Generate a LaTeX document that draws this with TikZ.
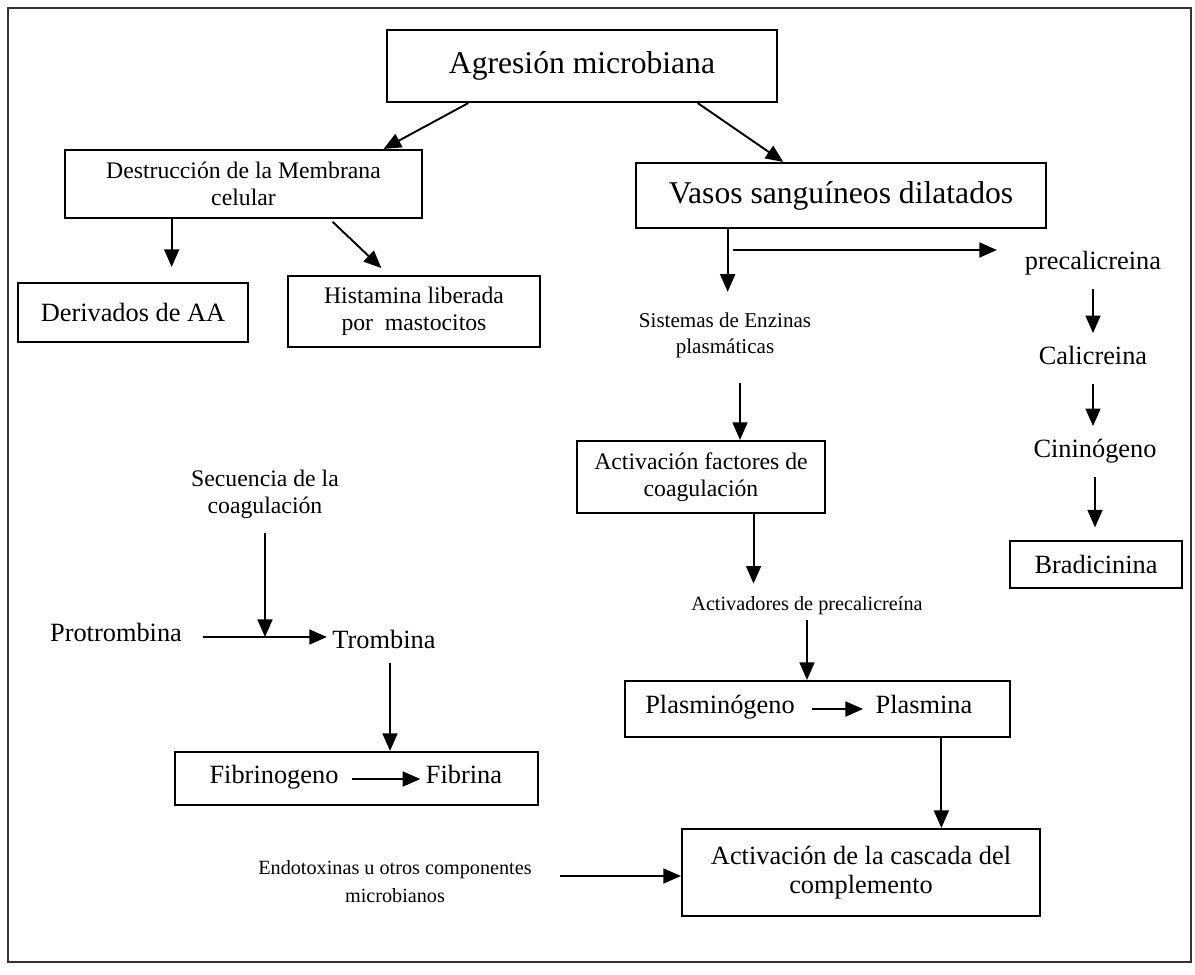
\documentclass[tikz,border=0pt]{standalone}
\usepackage{fontspec}
\setmainfont{Liberation Serif}
\usetikzlibrary{arrows.meta,positioning,calc}

\begin{document}
\begin{tikzpicture}[x=1cm,y=1cm,>={Triangle[length=10pt,width=8.5pt]},
 box/.style={draw,line width=1.2pt,align=center,inner sep=2pt},
 txt/.style={align=center,inner sep=3pt},
 word/.style={txt,text height=.75em,text depth=.25em},
 fbig/.style={font=\fontsize{18}{21}\selectfont},
 fmid/.style={font=\fontsize{15}{16.5}\selectfont},
 fsmall/.style={font=\fontsize{13.5}{15.2}\selectfont},
 ftiny/.style={font=\fontsize{12}{14.8}\selectfont},
 fmini/.style={font=\fontsize{11.5}{16}\selectfont},
 flow/.style={->,line width=1.1pt},
 chain/.style={flow,shorten <=.2cm,shorten >=.25cm}]
\useasboundingbox (0,0) rectangle (23.9,-19.48);
\draw[line width=.8pt,black!80] (0.16,-0.16) rectangle (23.82,-19.24);
% upper part
\node[box,fbig,minimum width=7.8cm,minimum height=1.44cm] (agresion) at (11.64,-1.32) {Agresión microbiana};
\node[box,fsmall,minimum width=7.14cm,minimum height=1.36cm] (destruccion) at (4.87,-3.68) {Destrucción de la Membrana\\celular};
\node[box,fbig,minimum width=8.2cm,minimum height=1.3cm] (vasos) at (16.82,-3.91) {Vasos sanguíneos dilatados};
\node[box,fmid,minimum width=4.6cm,minimum height=1.18cm] (derivados) at (2.66,-6.25) {Derivados de AA};
\node[box,fsmall,minimum width=5.04cm,minimum height=1.42cm] (histamina) at (8.28,-6.23) {Histamina liberada\\por\ \ mastocitos};
\node[txt,ftiny] (sistemas) at (14.5,-6.7) {Sistemas de Enzinas\\plasmáticas};
% kinin branch
\node[word,fmid] (precal) at (21.86,-5.3) {precalicreina};
\node[word,fmid] (calic) at (21.86,-7.2) {Calicreina};
\node[word,fmid] (cinin) at (21.9,-9.06) {Cininógeno};
\node[box,fmid,minimum width=3.44cm,minimum height=.94cm] (bradic) at (21.92,-11.29) {Bradicinina};
% plasma enzymes
\node[box,fsmall,minimum width=4.96cm,minimum height=1.44cm] (factores) at (14.02,-9.54) {Activación factores de\\coagulación};
\node[word,fmini] (activadores) at (16.14,-12.12) {Activadores de precalicreína};
\node[box,minimum width=7.7cm,minimum height=1.12cm] (plasmbox) at (16.35,-14.18) {};
\node[word,fmid] (plasminogeno) at (14.4,-14.18) {Plasminógeno};
\node[word,fmid] (plasmina) at (18.48,-14.18) {Plasmina};
\node[box,fmid,minimum width=7.16cm,minimum height=1.74cm] (complemento) at (17.22,-17.45) {Activación de la cascada del\\complemento};
\node[txt,fmini] (endotoxinas) at (7.9,-17.64) {Endotoxinas u otros componentes\\microbianos};
% coagulation
\node[txt,fsmall] (secuencia) at (5.3,-9.88) {Secuencia de la\\coagulación};
\node[word,fmid] (protrombina) at (2.32,-12.74) {Protrombina};
\node[word,fmid] (trombina) at (7.68,-12.88) {Trombina};
\node[box,minimum width=7.26cm,minimum height=1.06cm] (fibbox) at (7.13,-15.57) {};
\node[word,fmid] (fibrinogeno) at (5.48,-15.58) {Fibrinogeno};
\node[word,fmid] (fibrina) at (9.28,-15.58) {Fibrina};
% connectors
\draw[flow] ($(agresion.south west)!.21!(agresion.south east)$) -- ($(destruccion.north west)!.89!(destruccion.north east)$);
\draw[flow] ($(agresion.south west)!.795!(agresion.south east)$) -- ($(vasos.north west)!.36!(vasos.north east)$);
\draw[flow,shorten >=.3cm] ($(destruccion.south west)!.3!(destruccion.south east)$) coordinate (d1) -- (d1 |- derivados.north);
\draw[flow,shorten <=.08cm,shorten >=.2cm] ($(destruccion.south west)!.74!(destruccion.south east)$) -- ($(histamina.north west)!.4!(histamina.north east)$);
\draw[flow,shorten >=.3cm] ($(vasos.south west)!.225!(vasos.south east)$) coordinate (v1) -- (v1 |- sistemas.north);
\coordinate (fork) at (14.66,-5.0);
\draw[flow,shorten >=.45cm] (fork) -- (fork -| precal.west);
\draw[chain] (precal) -- (precal |- calic.north);
\draw[chain] (calic) -- (calic |- cinin.north);
\draw[chain] (cinin) -- (cinin |- bradic.north);
\draw[flow,shorten <=.4cm] ([xshift=.3cm]sistemas.south) -- ([xshift=.3cm]sistemas.south |- factores.north);
\draw[flow,shorten >=.16cm] ($(factores.south west)!.71!(factores.south east)$) coordinate (f1) -- (f1 |- activadores.north);
\draw[flow] (activadores) -- (activadores |- plasmbox.north);
\draw[flow,shorten <=.24cm,shorten >=.14cm] (plasminogeno) -- (plasmina);
\draw[flow] ($(plasmbox.south west)!.82!(plasmbox.south east)$) coordinate (p1) -- (p1 |- complemento.north);
\draw[flow,shorten <=.45cm] ([yshift=.12cm]endotoxinas.east) -- ([yshift=.12cm]endotoxinas.east -| complemento.west);
\draw[flow,shorten <=.18cm] (secuencia) -- (secuencia |- protrombina);
\draw[flow,shorten <=.3cm] (protrombina) -- (protrombina -| trombina.west);
\draw[flow,shorten <=.1cm] ([xshift=.12cm]trombina.south) -- ([xshift=.12cm]trombina.south |- fibbox.north);
\draw[flow,shorten <=.15cm] (fibrinogeno) -- (fibrina);
\end{tikzpicture}
\end{document}
